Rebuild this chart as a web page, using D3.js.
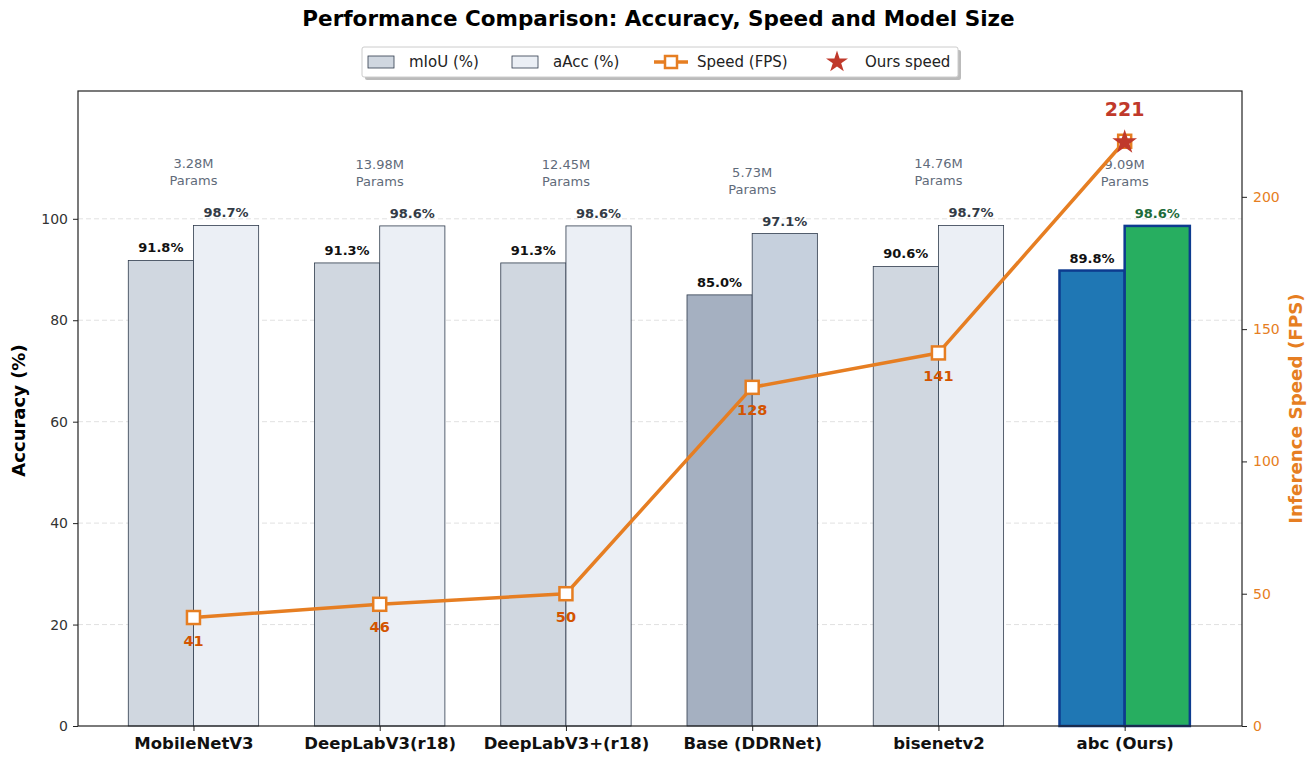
<!DOCTYPE html>
<html>
<head>
<meta charset="utf-8">
<script src="https://cdn.jsdelivr.net/npm/d3@7"></script>
<style>
  body { margin: 0; background: #fff; }
  svg text { font-family: "DejaVu Sans", sans-serif; }
</style>
</head>
<body>
<div id="chart"></div>
<script>
// chart data
const models = ['MobileNetV3', 'DeepLabV3(r18)', 'DeepLabV3+(r18)', 'Base (DDRNet)', 'bisenetv2', 'abc (Ours)'];
const miou = [91.8, 91.3, 91.3, 85.0, 90.6, 89.8];
const aacc = [98.7, 98.6, 98.6, 97.1, 98.7, 98.6];
const speed = [41, 46, 50, 128, 141, 221];
const params = ['3.28M', '13.98M', '12.45M', '5.73M', '14.76M', '9.09M'];
const accTicks = [0, 20, 40, 60, 80, 100];
const fpsTicks = [0, 50, 100, 150, 200];

const W = 1315, H = 762;
const margin = { top: 91, right: 73, bottom: 36, left: 78 };
const width = W - margin.left - margin.right;
const height = H - margin.top - margin.bottom;

const orange = '#e67e22';
const ourIdx = 5, baseIdx = 3;

const svg = d3.select('#chart').append('svg')
    .attr('width', W).attr('height', H);

// Title
svg.append('text')
    .attr('x', W / 2 + 1).attr('y', 26)
    .attr('text-anchor', 'middle')
    .style('font-size', '21.5px').style('font-weight', 'bold')
    .text('Performance Comparison: Accuracy, Speed and Model Size');

const g = svg.append('g').attr('transform', `translate(${margin.left},${margin.top})`);

const x = d3.scaleLinear().domain([-0.62, 5.63]).range([0, width]);
const y = d3.scaleLinear().domain([0, 125.2]).range([height, 0]);
const y2 = d3.scaleLinear().domain([0, 240]).range([height, 0]);
const bw = 0.35;

// grid lines
g.selectAll('.grid').data(accTicks.filter(d => d > 0)).enter()
    .append('line')
    .attr('x1', 0).attr('x2', width)
    .attr('y1', d => y(d)).attr('y2', d => y(d))
    .attr('stroke', '#d9d9d9').attr('stroke-width', 0.8)
    .attr('stroke-dasharray', '5,3');

function miouFill(i) { return i === ourIdx ? '#1f77b4' : (i === baseIdx ? '#a5b0c1' : '#d0d7e0'); }
function aaccFill(i) { return i === ourIdx ? '#27ae60' : (i === baseIdx ? '#c6d0dd' : '#ebeff5'); }
function stroke(i) { return i === ourIdx ? '#0d3b8f' : '#2f3b4c'; }
function sw(i) { return i === ourIdx ? 2.5 : 0.8; }

// mIoU bars
g.selectAll('.bar-miou').data(miou).enter()
    .append('rect')
    .attr('x', (d, i) => x(i - bw))
    .attr('width', x(bw) - x(0))
    .attr('y', d => y(d))
    .attr('height', d => height - y(d))
    .attr('fill', (d, i) => miouFill(i))
    .attr('stroke', (d, i) => stroke(i))
    .attr('stroke-width', (d, i) => sw(i));

// aAcc bars
g.selectAll('.bar-aacc').data(aacc).enter()
    .append('rect')
    .attr('x', (d, i) => x(i))
    .attr('width', x(bw) - x(0))
    .attr('y', d => y(d))
    .attr('height', d => height - y(d))
    .attr('fill', (d, i) => aaccFill(i))
    .attr('stroke', (d, i) => stroke(i))
    .attr('stroke-width', (d, i) => sw(i));

// bar value labels
g.selectAll('.lbl-miou').data(miou).enter()
    .append('text')
    .attr('x', (d, i) => x(i - bw / 2))
    .attr('y', d => y(d) - 8)
    .attr('text-anchor', 'middle')
    .style('font-size', '13px').style('font-weight', 'bold')
    .attr('fill', '#111')
    .text(d => d.toFixed(1) + '%');

g.selectAll('.lbl-aacc').data(aacc).enter()
    .append('text')
    .attr('x', (d, i) => x(i + bw / 2))
    .attr('y', d => y(d) - 8)
    .attr('text-anchor', 'middle')
    .style('font-size', '13px').style('font-weight', 'bold')
    .attr('fill', (d, i) => i === ourIdx ? '#1d6b3a' : '#333b46')
    .text(d => d.toFixed(1) + '%');

// params labels
const pg = g.selectAll('.params').data(params).enter()
    .append('text')
    .attr('text-anchor', 'middle')
    .style('font-size', '13px')
    .attr('fill', '#5f6b7a')
    .attr('transform', (d, i) => `translate(${x(i)},${y(Math.max(miou[i], aacc[i])) - 57})`);
pg.append('tspan').attr('x', 0).attr('dy', 0).text(d => d);
pg.append('tspan').attr('x', 0).attr('dy', 17).text('Params');

// axes frame
g.append('rect').attr('width', width).attr('height', height)
    .attr('fill', 'none').attr('stroke', '#222').attr('stroke-width', 1.2);

// left axis
const yAxis = g.append('g')
    .call(d3.axisLeft(y).tickValues(accTicks).tickSize(5).tickPadding(5));
yAxis.select('.domain').remove();
yAxis.selectAll('text').style('font-size', '14px').attr('fill', '#333');
yAxis.selectAll('line').attr('stroke', '#222');

// right axis
const y2Axis = g.append('g').attr('transform', `translate(${width},0)`)
    .call(d3.axisRight(y2).tickValues(fpsTicks).tickSize(5).tickPadding(6));
y2Axis.select('.domain').remove();
y2Axis.selectAll('text').style('font-size', '14px').attr('fill', orange);
y2Axis.selectAll('line').attr('stroke', '#222');

// x axis
const xAxis = g.append('g').attr('transform', `translate(0,${height})`)
    .call(d3.axisBottom(x).tickValues(d3.range(models.length)).tickFormat(i => models[i]).tickSize(5).tickPadding(6));
xAxis.select('.domain').remove();
xAxis.selectAll('text').style('font-size', '16.5px').style('font-weight', 'bold').attr('fill', '#111');
xAxis.selectAll('line').attr('stroke', '#222');

// axis titles
svg.append('text')
    .attr('transform', `translate(25,${margin.top + height / 2 + 2}) rotate(-90)`)
    .attr('text-anchor', 'middle')
    .style('font-size', '18px').style('font-weight', 'bold')
    .text('Accuracy (%)');
svg.append('text')
    .attr('transform', `translate(1302,${margin.top + height / 2}) rotate(-90)`)
    .attr('text-anchor', 'middle')
    .style('font-size', '18.3px').style('font-weight', 'bold')
    .attr('fill', orange)
    .text('Inference Speed (FPS)');

// speed line
const line = d3.line().x((d, i) => x(i)).y(d => y2(d));
g.append('path').datum(speed)
    .attr('d', line)
    .attr('fill', 'none').attr('stroke', orange).attr('stroke-width', 3.5)
    .attr('stroke-linejoin', 'round');

g.selectAll('.marker').data(speed).enter()
    .append('rect')
    .attr('x', (d, i) => x(i) - 6.5)
    .attr('y', d => y2(d) - 6.5)
    .attr('width', 13).attr('height', 13)
    .attr('fill', '#fff').attr('stroke', orange).attr('stroke-width', 2.5);

// speed labels (baselines)
g.selectAll('.spd-lbl').data(speed.slice(0, ourIdx)).enter()
    .append('text')
    .attr('x', (d, i) => x(i))
    .attr('y', d => y2(d) + 28)
    .attr('text-anchor', 'middle')
    .style('font-size', '14.5px').style('font-weight', 'bold')
    .attr('fill', '#d35400')
    .text(d => d);

// star for ours
const star = d3.symbol().type(d3.symbolStar).size(190);
g.append('path')
    .attr('d', star())
    .attr('transform', `translate(${x(ourIdx)},${y2(speed[ourIdx]) + 1})`)
    .attr('fill', '#c0392b');
g.append('text')
    .attr('x', x(ourIdx))
    .attr('y', y2(speed[ourIdx]) - 25)
    .attr('text-anchor', 'middle')
    .style('font-size', '19px').style('font-weight', 'bold')
    .attr('fill', '#c0392b')
    .text(speed[ourIdx]);

// legend
const leg = svg.append('g').attr('transform', 'translate(362,47)');
leg.append('rect').attr('x', 3).attr('y', 3).attr('width', 596).attr('height', 30).attr('rx', 2)
    .attr('fill', '#bbb');
leg.append('rect').attr('width', 596).attr('height', 30).attr('rx', 2)
    .attr('fill', '#fff').attr('stroke', '#ccc');
leg.append('rect').attr('x', 6).attr('y', 9).attr('width', 26).attr('height', 12)
    .attr('fill', '#d0d7e0').attr('stroke', '#2f3b4c').attr('stroke-width', 0.8);
leg.append('text').attr('x', 47).attr('y', 20).style('font-size', '15px').attr('fill', '#222').text('mIoU (%)');
leg.append('rect').attr('x', 150).attr('y', 9).attr('width', 26).attr('height', 12)
    .attr('fill', '#ebeff5').attr('stroke', '#2f3b4c').attr('stroke-width', 0.8);
leg.append('text').attr('x', 191).attr('y', 20).style('font-size', '15px').attr('fill', '#222').text('aAcc (%)');
leg.append('line').attr('x1', 292).attr('x2', 326).attr('y1', 15).attr('y2', 15)
    .attr('stroke', orange).attr('stroke-width', 3.5);
leg.append('rect').attr('x', 303).attr('y', 9).attr('width', 12).attr('height', 12)
    .attr('fill', '#fff').attr('stroke', orange).attr('stroke-width', 2.5);
leg.append('text').attr('x', 335).attr('y', 20).style('font-size', '15px').attr('fill', '#222').text('Speed (FPS)');
leg.append('path').attr('d', d3.symbol().type(d3.symbolStar).size(150)())
    .attr('transform', 'translate(475,15)').attr('fill', '#c0392b');
leg.append('text').attr('x', 503).attr('y', 20).style('font-size', '15px').attr('fill', '#222').text('Ours speed');
</script>
</body>
</html>
